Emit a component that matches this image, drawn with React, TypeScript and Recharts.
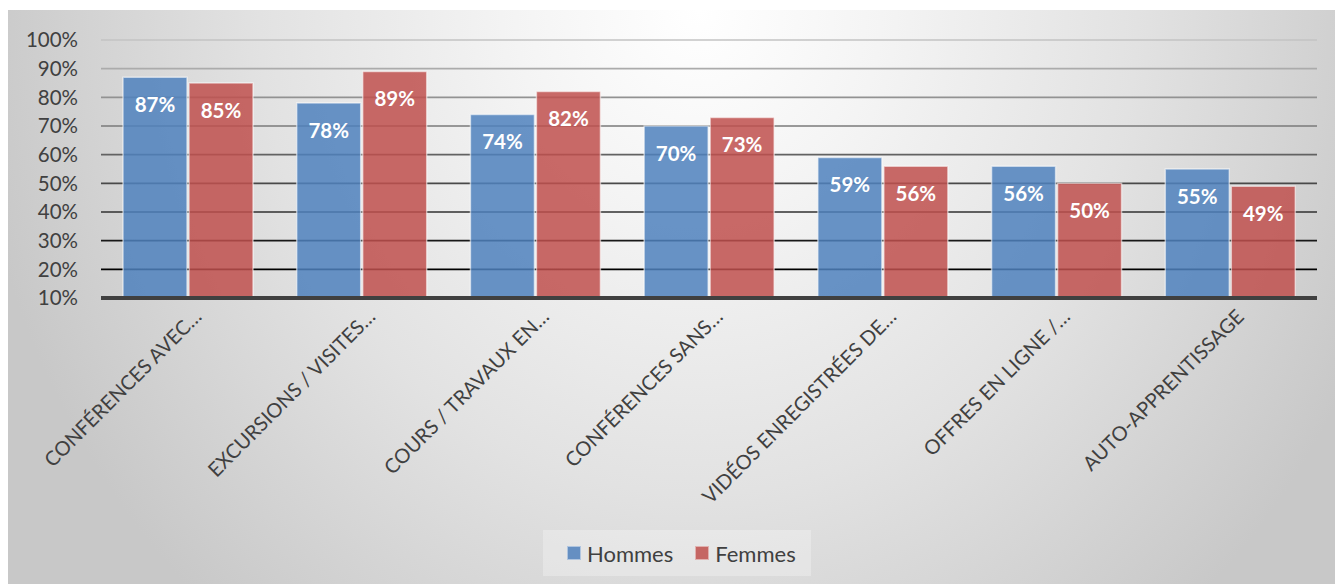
import React from "react";
import { BarChart, Bar, XAxis, YAxis, CartesianGrid, LabelList, Legend } from "recharts";

const categories = [
  "CONFÉRENCES AVEC…",
  "EXCURSIONS / VISITES…",
  "COURS / TRAVAUX EN…",
  "CONFÉRENCES SANS…",
  "VIDÉOS ENREGISTRÉES DE…",
  "OFFRES EN LIGNE /…",
  "AUTO-APPRENTISSAGE",
];
const hommes = [87, 78, 74, 70, 59, 56, 55];
const femmes = [85, 89, 82, 73, 56, 50, 49];
const yTicks = [10, 20, 30, 40, 50, 60, 70, 80, 90, 100];

const data = categories.map((name, i) => ({ name, Hommes: hommes[i], Femmes: femmes[i] }));

const FONT = "Lato, 'Open Sans', sans-serif";
const BLUE = "#4f81bd";
const RED = "#c0504d";

const PLOT_TOP = 30;
const PLOT_BOTTOM = 288;

const GridLine = (props: any) => {
  const { x1, x2, y1, y2, index } = props;
  const span = (PLOT_BOTTOM - PLOT_TOP) * (8 / 9);
  const t = Math.max(0, Math.min(1, (PLOT_TOP + span - y1) / span));
  const v = Math.round(195 * t);
  const c = `rgb(${v},${v},${v})`;
  return <line key={`gl-${index}`} x1={x1} x2={x2} y1={y1} y2={y2} stroke={c} strokeWidth={1.6} />;
};

const XTick = (props: any) => {
  const { x, y, payload } = props;
  return (
    <g transform={`translate(${x + 15},${y})`}>
      <text
        x={0}
        y={0}
        transform="rotate(-45)"
        textAnchor="end"
        fill="#404040"
        fontSize={20}
        fontFamily={FONT}
      >
        {payload.value}
      </text>
    </g>
  );
};

const LegendContent = () => (
  <div
    style={{
      width: 268,
      height: 46,
      background: "rgba(255,255,255,0.28)",
      display: "flex",
      alignItems: "center",
      paddingLeft: 24,
      boxSizing: "border-box",
      fontFamily: FONT,
      fontSize: 22,
      color: "#404040",
    }}
  >
    {[
      { label: "Hommes", color: BLUE },
      { label: "Femmes", color: RED },
    ].map((it, i) => (
      <div key={it.label} style={{ display: "flex", alignItems: "center", marginLeft: i ? 22 : 0 }}>
        <span
          style={{
            display: "inline-block",
            width: 12,
            height: 12,
            background: it.color,
            opacity: 0.85,
            border: "1px solid rgba(255,255,255,0.5)",
            marginRight: 6,
          }}
        />
        <span>{it.label}</span>
      </div>
    ))}
  </div>
);

export default function App() {
  return (
    <div
      style={{
        position: "relative",
        top: 2,
        left: -1,
        width: 1330,
        height: 576,
        background:
          "radial-gradient(ellipse 55% 140% at 52% 0%, #ffffff 0%, #f4f4f4 25%, #e2e2e2 60%, #c8c8c8 100%)",
      }}
    >
      <BarChart
        width={1330}
        height={576}
        data={data}
        margin={{ top: PLOT_TOP, right: 20, left: 0, bottom: 0 }}
        barSize={64}
        barGap={2}
      >
        <CartesianGrid vertical={false} horizontal={GridLine} />
        <XAxis
          dataKey="name"
          height={288}
          interval={0}
          tickLine={false}
          tickSize={0}
          tickMargin={20}
          axisLine={{ stroke: "#404040", strokeWidth: 4 }}
          tick={<XTick />}
        />
        <YAxis
          width={94}
          domain={[10, 100]}
          ticks={yTicks}
          interval={0}
          tickFormatter={(v: number) => `${v}%`}
          axisLine={false}
          tickLine={false}
          tickSize={0}
          tickMargin={23}
          tick={{ fill: "#404040", fontSize: 20.5, fontFamily: FONT }}
        />
        <Legend
          layout="horizontal"
          verticalAlign="middle"
          align="center"
          content={<LegendContent />}
          wrapperStyle={{ top: 520, left: 536, width: 268, height: 46 }}
        />
        <Bar
          dataKey="Hommes"
          fill={BLUE}
          fillOpacity={0.85}
          stroke="rgba(255,255,255,0.55)"
          strokeWidth={1.5}
          isAnimationActive={false}
        >
          <LabelList
            dataKey="Hommes"
            position="insideTop"
            offset={20}
            formatter={(v: any) => `${v}%`}
            fill="#ffffff"
            fontSize={20.5}
            fontWeight="bold"
            fontFamily={FONT}
          />
        </Bar>
        <Bar
          dataKey="Femmes"
          fill={RED}
          fillOpacity={0.85}
          stroke="rgba(255,255,255,0.55)"
          strokeWidth={1.5}
          isAnimationActive={false}
        >
          <LabelList
            dataKey="Femmes"
            position="insideTop"
            offset={20}
            formatter={(v: any) => `${v}%`}
            fill="#ffffff"
            fontSize={20.5}
            fontWeight="bold"
            fontFamily={FONT}
          />
        </Bar>
      </BarChart>
    </div>
  );
}
